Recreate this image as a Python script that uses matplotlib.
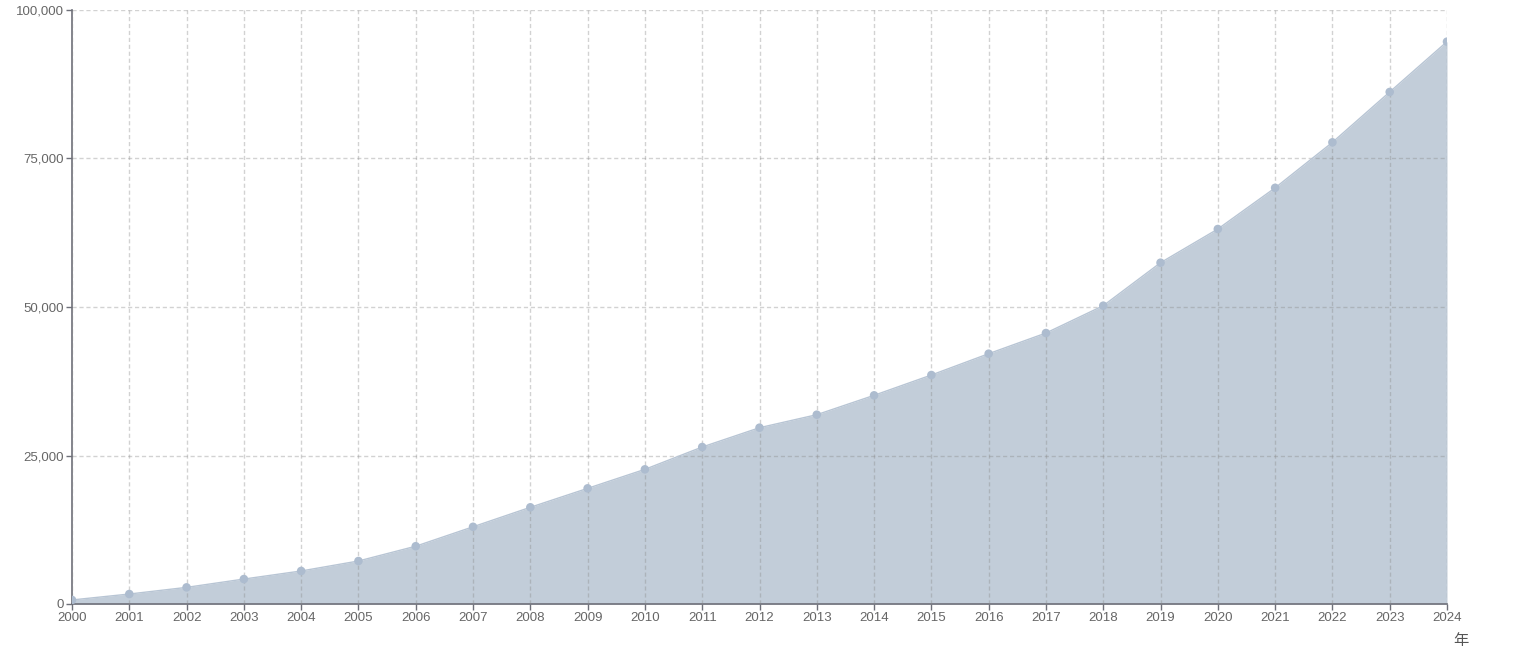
import numpy as np
import matplotlib
matplotlib.use('Agg')
import matplotlib.pyplot as plt
from matplotlib.ticker import FuncFormatter

plt.rcParams['font.family'] = ['Liberation Sans', 'Noto Sans CJK SC']

years = list(range(2000, 2025))
values = [680, 1680, 2800, 4200, 5560, 7240, 9730, 13000, 16280, 19470,
          22670, 26430, 29680, 31870, 35130, 38550, 42140, 45620, 50220, 57460,
          63130, 70060, 77720, 86200, 94670]
yticks = [0, 25000, 50000, 75000, 100000]

fig = plt.figure(figsize=(15.2, 6.52), dpi=100)
ax = fig.add_axes([72/1520, 48/652, (1447-72)/1520, (604-10)/652])

ax.fill_between(years, values, 0, color='#c2cdd9', linewidth=0, zorder=2)
ax.plot(years, values, color='#b8c5d4', linewidth=1, zorder=3)
ax.scatter(years, values, s=38, color='#adbccf', edgecolors='none', zorder=4)

ax.set_xlim(2000, 2024)
ax.set_ylim(0, 100000)
ax.set_xticks(years)
ax.set_yticks(yticks)
ax.yaxis.set_major_formatter(FuncFormatter(lambda v, p: '{:,.0f}'.format(v)))

ax.grid(True, color='#8a8a8a', alpha=0.38, linestyle=(0, (3, 2)), linewidth=1, zorder=2.5)
ax.set_axisbelow(False)

for s in ['top', 'right']:
    ax.spines[s].set_visible(False)
for s in ['left', 'bottom']:
    ax.spines[s].set_color('#6e7079')
    ax.spines[s].set_linewidth(1.2)

ax.tick_params(axis='both', colors='#6e7079', labelcolor='#666666', labelsize=9.5,
               length=4, width=1, pad=2)

fig.text(1461/1520, 1 - 641/652, '年', ha='center', va='center', fontsize=11,
         color='#555555', family=['Noto Sans CJK SC', 'DejaVu Sans'])

fig.savefig('out.png', dpi=100)
